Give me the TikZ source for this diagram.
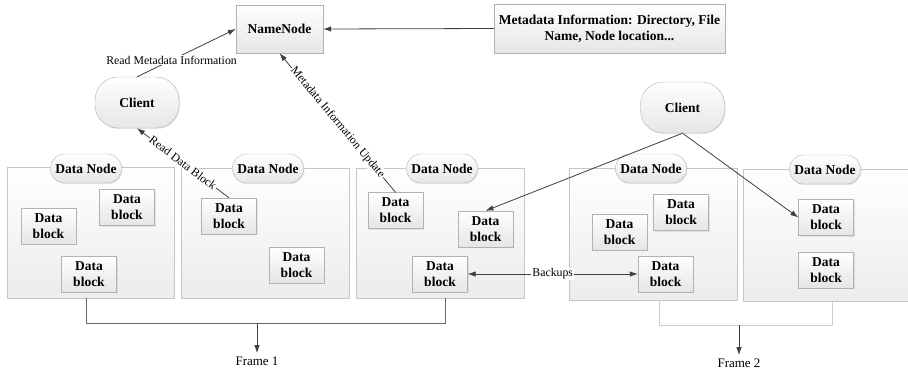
\documentclass[tikz,border=0pt]{standalone}
\usepackage{fontspec}
\setmainfont{Liberation Serif}
\usetikzlibrary{arrows.meta,calc,shadows}
\tikzset{
  box/.style={draw=gray!60, top color=white, bottom color=gray!20, inner sep=0pt,
    font=\fontsize{13.5}{16}\selectfont\bfseries, align=center,
    drop shadow={opacity=0.18, shadow xshift=1pt, shadow yshift=-1pt}},
  blk/.style={box, minimum width=55pt, minimum height=36pt},
  cont/.style={draw=gray!45, top color=white, bottom color=gray!15, inner sep=0pt},
  pill/.style={box, rounded corners=14pt, minimum width=71pt, minimum height=29pt},
  client/.style={box, rounded corners=23pt, minimum width=84pt, minimum height=51pt},
  conn/.style={draw=black!75, line width=0.8pt, -{Latex[length=8pt,width=5.5pt]}},
  dconn/.style={draw=black!75, line width=0.8pt, {Latex[length=8pt,width=5.5pt]}-{Latex[length=8pt,width=5.5pt]}},
  lbl/.style={fill=white, inner sep=1pt, font=\fontsize{11.8}{14}\selectfont},
  frm/.style={font=\fontsize{13}{15}\selectfont},
}
\begin{document}
\begin{tikzpicture}[x=1pt,y=-1pt]
\path[use as bounding box] (0,0) rectangle (908,373);
\clip (0,0) rectangle (908,373);
\fill[white] (0,0) rectangle (908,373);

% top
\node[box, minimum width=87pt, minimum height=48pt] (nn) at (279.5,29) {NameNode};
\node[box, minimum width=231pt, minimum height=49pt] (meta) at (609.5,28.5) {Metadata Information: Directory, File\\Name, Node location...};
\node[client] (cl1) at (137,102.5) {Client};
\node[client] (cl2) at (682.5,107.5) {Client};

% containers
\node[cont, anchor=north west, minimum width=167pt, minimum height=131pt] (c1) at (7,167) {};
\node[cont, anchor=north west, minimum width=168pt, minimum height=130pt] (c2) at (181,168) {};
\node[cont, anchor=north west, minimum width=168pt, minimum height=130pt] (c3) at (356,168) {};
\node[cont, anchor=north west, minimum width=168pt, minimum height=132pt] (c4) at (569,168) {};
\node[cont, anchor=north west, minimum width=168pt, minimum height=132pt] (c5) at (743,169) {};

\node[pill] (p1) at (86,168.5) {Data Node};
\node[pill] (p2) at (268,168.5) {Data Node};
\node[pill] (p3) at (442,168.5) {Data Node};
\node[pill] (p4) at (651,168.5) {Data Node};
\node[pill] (p5) at (825,169.5) {Data Node};

% data blocks
\node[blk] (A) at (48.5,226) {Data\\block};
\node[blk] (B) at (127,207.5) {Data\\block};
\node[blk] (C) at (89,274) {Data\\block};
\node[blk] (D) at (229,216) {Data\\block};
\node[blk] (E) at (296.5,265) {Data\\block};
\node[blk] (F) at (395.5,210.5) {Data\\block};
\node[blk] (G) at (485.5,229) {Data\\block};
\node[blk] (H) at (440,274) {Data\\block};
\node[blk] (I) at (619.5,232) {Data\\block};
\node[blk] (J) at (681,212.5) {Data\\block};
\node[blk] (K) at (665.5,274) {Data\\block};
\node[blk] (L) at (826,217.5) {Data\\block};
\node[blk] (M) at (826,270) {Data\\block};

% connectors
\draw[conn] (meta.west) -- (nn.east);
\draw[conn] (cl1.north) -- node[lbl, pos=0.35] {Read Metadata Information} (nn.west);
\draw[conn] (D.north) -- node[lbl, sloped, pos=0.5] {Read Data Block} (cl1.south);
\draw[conn] (F.north) -- node[lbl, sloped, pos=0.5] {Metadata Information Update} (nn.south);
\draw[conn] (cl2.south) -- (G.north);
\draw[conn] (cl2.south) -- (L.west);
\draw[dconn] (H.east) -- node[lbl] {Backups} (K.west);

% frame 1
\coordinate (f1l) at (86,298);
\coordinate (f1r) at (445,298);
\coordinate (f1m) at (257,323);
\draw[gray!80!black, line width=0.8pt] (f1l) -- (86,323) -- (445,323) -- (f1r);
\node[frm] (fr1) at (257,361) {Frame 1};
\draw[conn] (f1m) -- (fr1.north);

% frame 2
\coordinate (f2l) at (659,300);
\coordinate (f2r) at (832,301);
\coordinate (f2m) at (739,325);
\draw[gray!40, line width=0.8pt] (f2l) -- (659,325) -- (832,325) -- (f2r);
\node[frm] (fr2) at (739,363) {Frame 2};
\draw[conn] (f2m) -- (fr2.north);
\end{tikzpicture}
\end{document}
